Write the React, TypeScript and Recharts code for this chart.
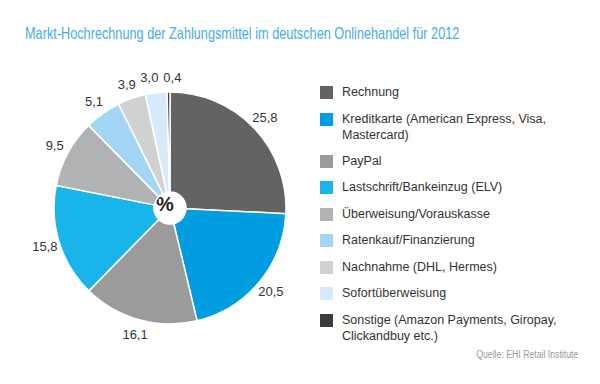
import { PieChart, Pie, Cell } from "recharts";

const CATEGORIES = [
    "Rechnung",
    "Kreditkarte (American Express, Visa, Mastercard)",
    "PayPal",
    "Lastschrift/Bankeinzug (ELV)",
    "Überweisung/Vorauskasse",
    "Ratenkauf/Finanzierung",
    "Nachnahme (DHL, Hermes)",
    "Sofortüberweisung",
    "Sonstige (Amazon Payments, Giropay, Clickandbuy etc.)",
];

// legend lines as they wrap in the original
const LEGEND_LINES = [
    ["Rechnung"],
    ["Kreditkarte (American Express, Visa,", "Mastercard)"],
    ["PayPal"],
    ["Lastschrift/Bankeinzug (ELV)"],
    ["Überweisung/Vorauskasse"],
    ["Ratenkauf/Finanzierung"],
    ["Nachnahme (DHL, Hermes)"],
    ["Sofortüberweisung"],
    ["Sonstige (Amazon Payments, Giropay,", "Clickandbuy etc.)"],
];

const SHARES = [25.8, 20.5, 16.1, 15.8, 9.5, 5.1, 3.9, 3.0, 0.4];

const COLORS = [
    "#636362", "#009ee0", "#9b9b9b", "#18b4ea", "#b1b2b4",
    "#a2d6f4", "#d0d1d1", "#d6eaf9", "#3c3c3b",
];

const FONT = "'Liberation Sans', Arial, sans-serif";
const RADIAN = Math.PI / 180;

const data = CATEGORIES.map((name, i) => ({ name, value: SHARES[i] }));

function renderLabel(props: any) {
    const { cx, cy, midAngle, outerRadius, value, index } = props;
    const r = outerRadius + 15;
    // the two thin slices at the top get their labels pushed apart a bit
    const dx = index === 7 ? -5 : index === 8 ? 4 : 0;
    const x = cx + r * Math.cos(-midAngle * RADIAN) + dx;
    const y = cy + r * Math.sin(-midAngle * RADIAN);
    return (
        <text x={x} y={y} textAnchor="middle" dominantBaseline="central"
            fill="#333" fontSize={13} fontFamily={FONT}>
            {value.toFixed(1).replace(".", ",")}
        </text>
    );
}

function LegendList() {
    return (
        <div style={{ fontFamily: FONT, fontSize: 12.5, color: "#333" }}>
            {LEGEND_LINES.map((lines, i) => (
                <div key={i} style={{ display: "flex", alignItems: "flex-start", marginBottom: lines.length > 1 ? 9 : 10 }}>
                    <div style={{ width: 13, height: 13, background: COLORS[i], marginTop: 2, marginRight: 9, flexShrink: 0 }} />
                    <div style={{ lineHeight: "16.5px" }}>
                        {lines.map((l) => <div key={l}>{l}</div>)}
                    </div>
                </div>
            ))}
        </div>
    );
}

export default function App() {
    return (
        <div style={{ position: "fixed", left: 0, top: 0, width: 600, height: 384, background: "#fff" }}>
            <div style={{
                position: "absolute", left: 25, top: 24, fontSize: 16.5, fontFamily: FONT,
                color: "#45ade6", whiteSpace: "nowrap",
                transform: "scaleX(0.77)", transformOrigin: "left top",
            }}>
                Markt-Hochrechnung der Zahlungsmittel im deutschen Onlinehandel für 2012
            </div>
            <PieChart width={600} height={384} style={{ position: "absolute", left: 0, top: 0 }}>
                <Pie
                    data={data}
                    dataKey="value"
                    nameKey="name"
                    cx={165}
                    cy={203}
                    outerRadius={116}
                    innerRadius={16}
                    startAngle={90}
                    endAngle={-270}
                    stroke="#fff"
                    strokeWidth={1.5}
                    label={renderLabel}
                    labelLine={false}
                    isAnimationActive={false}
                >
                    {data.map((d, i) => <Cell key={d.name} fill={COLORS[i]} />)}
                </Pie>
                <text x={165} y={204} textAnchor="middle" dominantBaseline="central"
                    fontSize={20} fontWeight="bold" fill="#222" fontFamily={FONT}>%</text>
            </PieChart>
            <div style={{ position: "absolute", left: 320, top: 84, width: 260 }}>
                <LegendList />
            </div>
            <div style={{
                position: "absolute", right: 22, top: 349, fontSize: 10, fontFamily: FONT,
                color: "#999", whiteSpace: "nowrap",
                transform: "scaleX(0.87)", transformOrigin: "right top",
            }}>
                Quelle: EHI Retail Institute
            </div>
        </div>
    );
}
